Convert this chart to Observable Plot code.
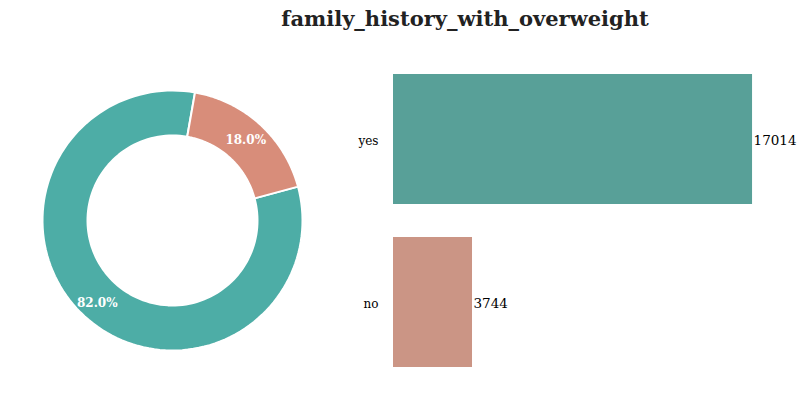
<!DOCTYPE html>
<html>
<head>
<meta charset="utf-8">
<script src="https://cdn.jsdelivr.net/npm/d3@7"></script>
<script src="https://cdn.jsdelivr.net/npm/@observablehq/plot@0.6"></script>
<style>
  html, body { margin: 0; padding: 0; background: #fff; }
  #wrap { position: relative; width: 806px; height: 393px; overflow: hidden; font-family: "DejaVu Serif", serif; }
  #title { position: absolute; left: 0; width: 930px; top: 6px; line-height: 26px; text-align: center; font-weight: bold; font-size: 21px; color: #222; z-index: 2; }
  #donut { position: absolute; left: 0; top: 0; }
  #bars { position: absolute; left: 345px; top: 0; }
</style>
</head>
<body>
<div id="wrap">
  <div id="title">family_history_with_overweight</div>
  <div id="donut"></div>
  <div id="bars"></div>
</div>
<script>
// ---- data ----
const categories = ["yes", "no"];
const counts = [17014, 3744];

// ---- styling (not data) ----
const donutColors = ["#4dada6", "#d88d7a"];
const barColors = ["#58a098", "#cb9585"];
const startDeg = 74.9;
const innerR = 85 / 130;
const labelR = 110 / 130;

const total = d3.sum(counts);
const a0 = startDeg * Math.PI / 180;
const arcs = d3.pie().sort(null).startAngle(a0).endAngle(a0 + 2 * Math.PI)(counts);

function ring(arc) {
  const pts = [];
  const n = 120;
  for (let i = 0; i <= n; i++) {
    const a = arc.startAngle + (arc.endAngle - arc.startAngle) * i / n;
    pts.push({x: Math.sin(a), y: Math.cos(a)});
  }
  for (let i = n; i >= 0; i--) {
    const a = arc.startAngle + (arc.endAngle - arc.startAngle) * i / n;
    pts.push({x: innerR * Math.sin(a), y: innerR * Math.cos(a)});
  }
  pts.push(pts[0]);
  return pts;
}

const labelData = arcs.map((arc, i) => {
  const m = (arc.startAngle + arc.endAngle) / 2;
  return {x: labelR * Math.sin(m), y: labelR * Math.cos(m), text: (100 * counts[i] / total).toFixed(1) + "%"};
});

const donut = Plot.plot({
  width: 344, height: 393,
  marginLeft: 42, marginRight: 42, marginTop: 90, marginBottom: 43,
  x: {domain: [-1, 1], axis: null},
  y: {domain: [-1, 1], axis: null},
  style: {fontFamily: "DejaVu Serif", background: "transparent"},
  marks: [
    ...arcs.map((arc, i) => Plot.line(ring(arc), {x: "x", y: "y", fill: donutColors[i], stroke: "white", strokeWidth: 2, strokeLinejoin: "miter"})),
    Plot.text(labelData, {x: "x", y: "y", text: "text", fill: "white", fontWeight: "bold", fontSize: 12, dx: -1, dy: 1})
  ]
});
document.getElementById("donut").appendChild(donut);

const barData = categories.map((c, i) => ({cat: c, value: counts[i], color: barColors[i]}));

const bars = Plot.plot({
  width: 461, height: 393,
  marginLeft: 48, marginRight: 36, marginTop: 57.5, marginBottom: 9.5,
  x: {domain: [0, d3.max(counts) * 1.05], axis: null},
  y: {domain: categories, paddingInner: 0.2, paddingOuter: 0.1, label: null, axis: null},
  style: {fontFamily: "DejaVu Serif", fontSize: "12px", color: "#000", background: "transparent"},
  marks: [
    Plot.barX(barData, {x: "value", y: "cat", fill: "color"}),
    Plot.axisY({tickSize: 0, tickPadding: 15, dy: 2, label: null, fontSize: 12}),
    Plot.text(barData, {x: "value", y: "cat", text: d => String(d.value), textAnchor: "start", dx: 1, dy: 1, fontSize: 13.5, fill: "#000"})
  ]
});
document.getElementById("bars").appendChild(bars);
</script>
</body>
</html>
